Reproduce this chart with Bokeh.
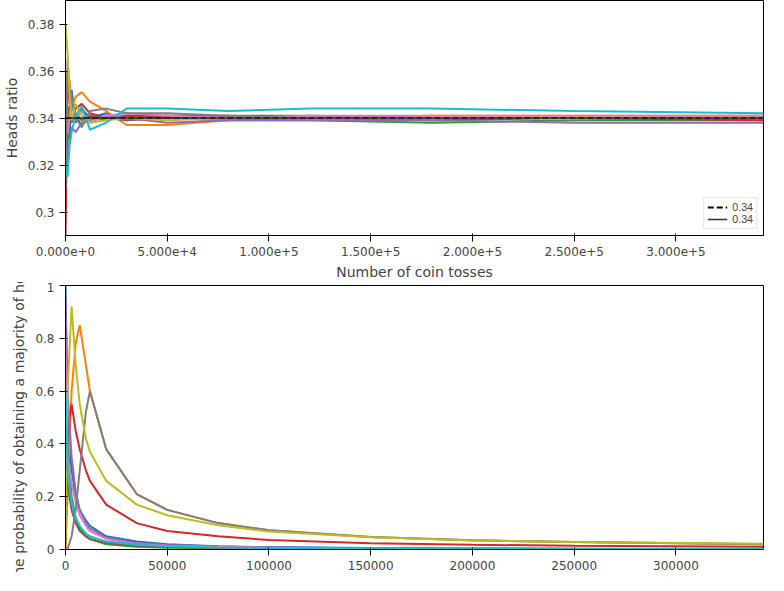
from bokeh.plotting import figure
from bokeh.layouts import column
from bokeh.models import Legend, LegendItem
from bokeh.embed import file_html
from bokeh.resources import INLINE

colors = ["#1f77b4", "#ff7f0e", "#2ca02c", "#d62728", "#9467bd",
          "#8c564b", "#e377c2", "#7f7f7f", "#bcbd22", "#17becf"]

# top panel: running heads ratio per run
top_x = [1, 1000, 2000, 3000, 5000, 8000, 12000, 20000, 30000, 50000,
         80000, 120000, 180000, 250000, 343000]
top_runs = [
    [0.30, 0.345, 0.330, 0.352, 0.338, 0.344, 0.340, 0.342, 0.339, 0.341, 0.340, 0.340, 0.339, 0.340, 0.340],
    [0.36, 0.350, 0.356, 0.344, 0.349, 0.351, 0.347, 0.343, 0.337, 0.337, 0.339, 0.340, 0.341, 0.341, 0.341],
    [0.32, 0.330, 0.338, 0.345, 0.341, 0.337, 0.340, 0.339, 0.341, 0.340, 0.339, 0.339, 0.338, 0.339, 0.339],
    [0.29, 0.358, 0.347, 0.340, 0.344, 0.346, 0.342, 0.340, 0.341, 0.341, 0.341, 0.340, 0.340, 0.340, 0.339],
    [0.33, 0.325, 0.330, 0.336, 0.334, 0.338, 0.339, 0.341, 0.340, 0.338, 0.339, 0.339, 0.339, 0.338, 0.338],
    [0.34, 0.340, 0.345, 0.338, 0.342, 0.339, 0.341, 0.340, 0.339, 0.340, 0.341, 0.341, 0.340, 0.340, 0.340],
    [0.35, 0.333, 0.341, 0.347, 0.339, 0.343, 0.338, 0.341, 0.342, 0.341, 0.340, 0.341, 0.341, 0.341, 0.341],
    [0.31, 0.365, 0.352, 0.348, 0.340, 0.336, 0.343, 0.344, 0.342, 0.342, 0.341, 0.340, 0.340, 0.340, 0.340],
    [0.38, 0.368, 0.350, 0.339, 0.346, 0.341, 0.338, 0.339, 0.340, 0.339, 0.340, 0.340, 0.340, 0.340, 0.340],
    [0.32, 0.315, 0.328, 0.334, 0.341, 0.345, 0.335, 0.338, 0.344, 0.344, 0.343, 0.344, 0.344, 0.343, 0.342],
]

# bottom panel: probability of a heads majority
bot_x = [1, 1000, 3000, 5000, 7000, 10000, 12000, 20000, 35000, 50000,
         75000, 100000, 150000, 200000, 250000, 343000]
bot_runs = [
    [1.00, 0.50, 0.30, 0.20, 0.15, 0.11, 0.09, 0.05, 0.03, 0.02, 0.012, 0.009, 0.006, 0.004, 0.003, 0.002],
    [0.00, 0.20, 0.60, 0.78, 0.85, 0.70, 0.60, 0.38, 0.21, 0.15, 0.10, 0.073, 0.047, 0.035, 0.028, 0.020],
    [0.90, 0.40, 0.20, 0.12, 0.08, 0.05, 0.04, 0.02, 0.01, 0.007, 0.005, 0.003, 0.002, 0.002, 0.001, 0.001],
    [0.00, 0.45, 0.55, 0.45, 0.38, 0.30, 0.26, 0.17, 0.10, 0.07, 0.05, 0.036, 0.024, 0.018, 0.014, 0.010],
    [0.95, 0.60, 0.35, 0.22, 0.15, 0.10, 0.08, 0.045, 0.025, 0.017, 0.011, 0.008, 0.005, 0.004, 0.003, 0.002],
    [0.30, 0.25, 0.15, 0.10, 0.07, 0.05, 0.04, 0.025, 0.014, 0.010, 0.007, 0.005, 0.003, 0.002, 0.002, 0.001],
    [0.80, 0.35, 0.25, 0.18, 0.13, 0.09, 0.07, 0.04, 0.02, 0.014, 0.009, 0.007, 0.004, 0.003, 0.002, 0.002],
    [0.00, 0.00, 0.05, 0.15, 0.30, 0.52, 0.60, 0.38, 0.21, 0.15, 0.10, 0.073, 0.047, 0.035, 0.028, 0.020],
    [0.00, 0.60, 0.92, 0.70, 0.55, 0.42, 0.37, 0.26, 0.17, 0.13, 0.092, 0.068, 0.046, 0.034, 0.028, 0.022],
    [0.60, 0.30, 0.18, 0.12, 0.09, 0.06, 0.05, 0.03, 0.018, 0.012, 0.008, 0.006, 0.004, 0.003, 0.002, 0.002],
]

W = 768
p1 = figure(width=W, height=282, output_backend="svg", toolbar_location=None,
            x_range=(0, 343000), y_range=(0.29, 0.39),
            min_border_left=52, min_border_right=5, min_border_top=0)
for i, ys in enumerate(top_runs):
    p1.line(top_x, ys, line_color=colors[i], line_width=2)
dash = p1.line([0, 343000], [0.34, 0.34], line_color="black", line_width=2, line_dash="6 3")
solid = p1.line([0, 343000], [0.34, 0.34], line_color="#333333", line_width=1.5)
p1.add_layout(Legend(items=[LegendItem(label="0.34", renderers=[dash]),
                            LegendItem(label="0.34", renderers=[solid])],
                     location="bottom_right", label_text_font_size="8pt",
                     glyph_height=12, label_height=12, padding=3, spacing=0,
                     margin=6, border_line_color="#cccccc"))
p1.xaxis.major_label_text_font_size = "0pt"
p1.xaxis.axis_label = "Number of coin tosses"
p1.yaxis.axis_label = "Heads ratio"
p1.yaxis.ticker = [0.30, 0.32, 0.34, 0.36, 0.38]

p2 = figure(width=W, height=290, output_backend="svg", toolbar_location=None,
            x_range=(0, 343000), y_range=(0, 1),
            min_border_left=52, min_border_right=5, min_border_top=3)
for i, ys in enumerate(bot_runs):
    p2.line(bot_x, ys, line_color=colors[i], line_width=2)
p2.yaxis.axis_label = "The probability of obtaining a majority of heads"
p2.xaxis.ticker = [0, 50000, 100000, 150000, 200000, 250000, 300000]
p2.yaxis.ticker = [0, 0.2, 0.4, 0.6, 0.8, 1.0]
p2.xaxis.formatter.use_scientific = False

for p in (p1, p2):
    p.grid.visible = False
    p.outline_line_color = "black"
    p.axis.axis_label_text_font_style = "normal"
    p.axis.axis_label_text_font_size = "14px"
    p.axis.major_label_text_font_size = "12px"
    p.axis.axis_label_text_font = "DejaVu Sans"
    p.axis.major_label_text_font = "DejaVu Sans"
    p.axis.minor_tick_line_color = None

layout = column(p1, p2, spacing=0)
open("out.html", "w").write(file_html(layout, INLINE))
